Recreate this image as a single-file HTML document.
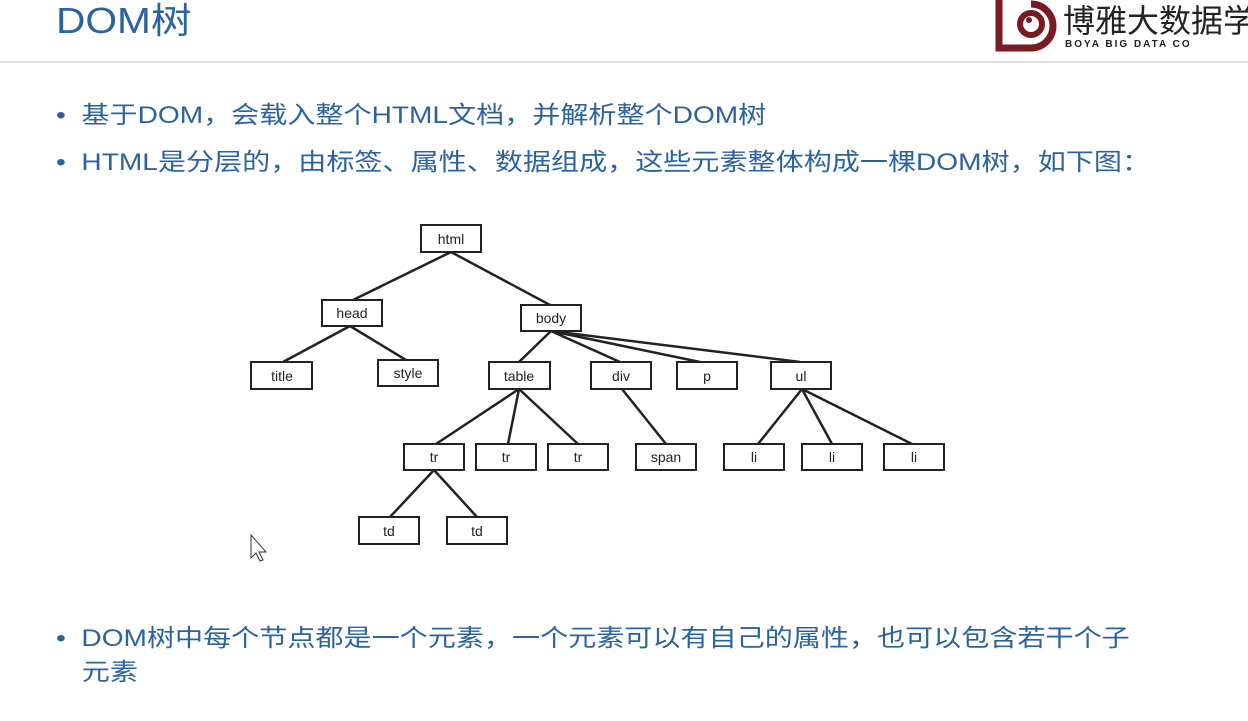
<!DOCTYPE html><html><head><meta charset="utf-8"><style>
body{margin:0;width:1248px;height:721px;background:#fff;position:relative;overflow:hidden;font-family:"Liberation Sans","Noto Sans CJK SC",sans-serif}
.t{position:absolute;color:#2b62a0;white-space:nowrap;transform-origin:0 0;transform:scaleX(1.17)}
</style></head><body>
<div class="t" style="left:56px;top:0px;font-size:36px;line-height:42px;transform:scaleX(1.13)">DOM树</div>
<div style="position:absolute;left:0;top:61px;width:1248px;height:2px;background:#dcdcdc"></div>
<svg style="position:absolute;left:995px;top:0" width="253" height="52">
<path d="M4 0 V48 H36 A22 22 0 0 0 36 4" fill="none" stroke="#7a1a22" stroke-width="7"/>
<circle cx="36" cy="24" r="11" fill="none" stroke="#7a1a22" stroke-width="6"/>
<circle cx="34" cy="20" r="3" fill="#7a1a22"/>
<text x="68" y="32" font-size="32" font-family="Noto Sans CJK SC" fill="#222">博雅大数据学</text>
<text x="70" y="47" font-size="10" font-weight="bold" letter-spacing="2" fill="#222" font-family="Liberation Sans">BOYA BIG DATA CO</text>
</svg>
<div class="t" style="left:56px;top:100px;font-size:24px;line-height:32px">•&nbsp; 基于DOM，会载入整个HTML文档，并解析整个DOM树</div>
<div class="t" style="left:56px;top:147px;font-size:24px;line-height:32px">•&nbsp; HTML是分层的，由标签、属性、数据组成，这些元素整体构成一棵DOM树，如下图：</div>
<div class="t" style="left:56px;top:622px;font-size:24px;line-height:34px">•&nbsp; DOM树中每个节点都是一个元素，一个元素可以有自己的属性，也可以包含若干个子<br><span style="padding-left:22px">元素</span></div>
<svg style="position:absolute;left:0;top:0" width="1248" height="721" font-family="Liberation Sans" font-size="14">
<g stroke="#222" stroke-width="2.5">
<line x1="451" y1="252" x2="353" y2="300"/><line x1="451" y1="252" x2="550" y2="305"/>
<line x1="350" y1="326" x2="283" y2="362"/><line x1="350" y1="326" x2="406" y2="360"/>
<line x1="551" y1="331" x2="519" y2="362"/><line x1="551" y1="331" x2="620" y2="362"/>
<line x1="551" y1="331" x2="700" y2="362"/><line x1="551" y1="331" x2="800" y2="362"/>
<line x1="519" y1="389" x2="436" y2="444"/><line x1="519" y1="389" x2="508" y2="444"/><line x1="519" y1="389" x2="578" y2="444"/>
<line x1="622" y1="389" x2="666" y2="444"/>
<line x1="802" y1="389" x2="758" y2="444"/><line x1="802" y1="389" x2="832" y2="444"/><line x1="802" y1="389" x2="912" y2="444"/>
<line x1="434" y1="470" x2="390" y2="517"/><line x1="434" y1="470" x2="477" y2="517"/>
</g>
<g fill="#fff" stroke="#222" stroke-width="2">
<rect x="421" y="225" width="60" height="27"/><rect x="322" y="300" width="60" height="26"/><rect x="521" y="305" width="60" height="26"/>
<rect x="251" y="362" width="61" height="27"/><rect x="378" y="360" width="60" height="26"/><rect x="489" y="362" width="61" height="27"/>
<rect x="591" y="362" width="60" height="27"/><rect x="677" y="362" width="60" height="27"/><rect x="771" y="362" width="60" height="27"/>
<rect x="404" y="444" width="60" height="26"/><rect x="476" y="444" width="60" height="26"/><rect x="548" y="444" width="60" height="26"/>
<rect x="636" y="444" width="60" height="26"/><rect x="724" y="444" width="60" height="26"/><rect x="802" y="444" width="60" height="26"/><rect x="884" y="444" width="60" height="26"/>
<rect x="359" y="517" width="60" height="27"/><rect x="447" y="517" width="60" height="27"/>
</g>
<g fill="#222" text-anchor="middle">
<text x="451" y="244">html</text><text x="352" y="318">head</text><text x="551" y="323">body</text>
<text x="282" y="381">title</text><text x="408" y="378">style</text><text x="519" y="381">table</text>
<text x="621" y="381">div</text><text x="707" y="381">p</text><text x="801" y="381">ul</text>
<text x="434" y="462">tr</text><text x="506" y="462">tr</text><text x="578" y="462">tr</text><text x="666" y="462">span</text>
<text x="754" y="462">li</text><text x="832" y="462">li</text><text x="914" y="462">li</text>
<text x="389" y="536">td</text><text x="477" y="536">td</text>
</g>
<path d="M251 535 V558 L256 553 L260 561 L263 560 L259 552 L266 552 Z" fill="#fff" stroke="#333" stroke-width="1"/>
</svg>
</body></html>
